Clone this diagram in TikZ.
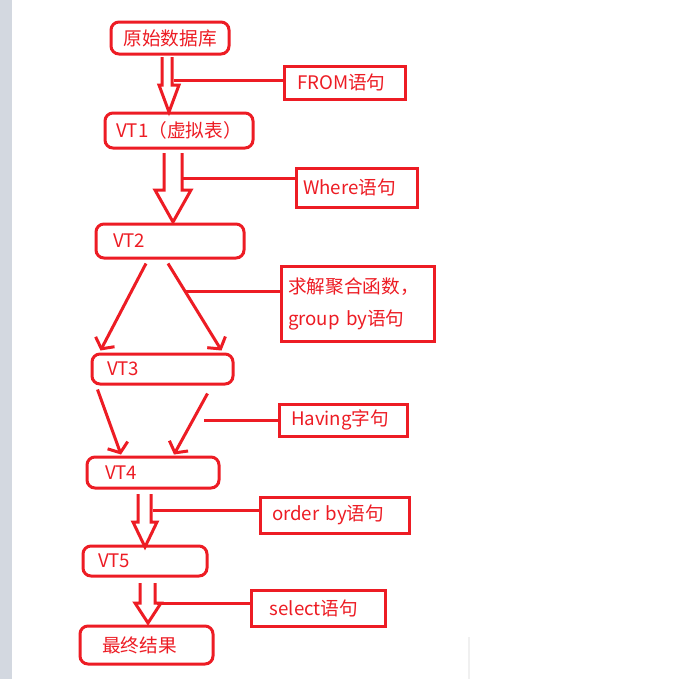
\documentclass[tikz,border=0pt]{standalone}
\usepackage{fontspec}
\newfontfamily\cjk{Noto Sans CJK SC}
\usetikzlibrary{calc,arrows.meta}
\definecolor{pen}{RGB}{237,28,36}
\definecolor{sidebar}{RGB}{211,216,224}
\tikzstyle{vt} = [rectangle, rounded corners=6pt, draw=pen, line width=2.25pt, text=pen, font=\cjk\fontsize{14pt}{17pt}\selectfont, align=left, inner ysep=0pt]
\tikzstyle{clause} = [rectangle, draw=pen, line width=2.25pt, text=pen, font=\cjk\fontsize{14pt}{24pt}\selectfont, align=left, inner ysep=0pt]
\tikzstyle{hollow} = [draw=pen, line width=2.25pt, fill=white, line join=miter]
\tikzstyle{arrow} = [draw=pen, line width=2.25pt, -{Straight Barb[length=6pt,width=16pt]}]
\tikzstyle{link} = [draw=pen, line width=2.25pt]

\begin{document}
\begin{tikzpicture}[x=0.75pt, y=-0.75pt]
\useasboundingbox (0,0) rectangle (689,679);
\fill[white] (0,0) rectangle (689,679);
\fill[sidebar] (0,0) rectangle (12,679);
% stray white panel at the bottom
\fill[gray!12] (347,637) rectangle (470,679);
\fill[white] (345,635) rectangle (468,679);

% the virtual tables
\node (start) [vt, align=center, minimum width=88.5pt, minimum height=24pt, text width=76.5pt, inner xsep=6pt] at (170,38) {原始数据库};
\node (vt1) [vt, align=center, minimum width=111pt, minimum height=26.25pt, text width=105pt, inner xsep=3pt] at (179,130.5) {VT1（虚拟表）};
\node (vt2) [vt, minimum width=111pt, minimum height=25.5pt, text width=85.5pt, inner xsep=12.75pt] at (170,241) {VT2};
\node (vt3) [vt, minimum width=105.75pt, minimum height=22.5pt, text width=83.25pt, inner xsep=11.25pt] at (162.5,369) {VT3};
\node (vt4) [vt, minimum width=99pt, minimum height=23.25pt, text width=72pt, inner xsep=13.5pt] at (153,472.5) {VT4};
\node (vt5) [vt, minimum width=93pt, minimum height=22.5pt, text width=70.5pt, inner xsep=11.25pt] at (145,561) {VT5};
\node (result) [vt, minimum width=99.75pt, minimum height=28.5pt, text width=66.75pt, inner xsep=16.5pt] at (146.5,645) {最终结果};

% the clauses
\node (from) [clause, minimum width=90.75pt, minimum height=24.75pt, text width=71.25pt, inner xsep=9.75pt] at (344.5,82.5) {FROM语句};
\node (where) [clause, minimum width=90.75pt, minimum height=29.25pt, text width=80.25pt, inner xsep=5.25pt] at (356.5,187.5) {Where语句};
\node (agg) [clause, minimum width=114.75pt, minimum height=56.25pt, text width=104.25pt, inner xsep=5.25pt] at (357.5,303.5) {求解聚合函数，\\group by语句};
\node (having) [clause, minimum width=96pt, minimum height=24pt, text width=78pt, inner xsep=9pt] at (343,420) {Having字句};
\node (order) [clause, minimum width=111.75pt, minimum height=27pt, text width=93.75pt, inner xsep=9pt] at (334.5,515) {order by语句};
\node (select) [clause, minimum width=100.5pt, minimum height=27pt, text width=72.5pt, inner xsep=14pt] at (318,608) {select语句};

% hollow arrows
\draw [hollow] (162,57) -- (162,85) -- (159,85) -- (169,112) -- (179,85) -- (172,85) -- (172,57);
\draw [hollow] (164,153) -- (164,190) -- (155,190) -- (173,222) -- (191,190) -- (182,190) -- (182,153);
\draw [hollow] (138,494) -- (138,522) -- (133,522) -- (145,547) -- (157,522) -- (151,522) -- (151,494);
\draw [hollow] (140,583) -- (140,603) -- (135,603) -- (148,623) -- (161,603) -- (155,603) -- (155,583);
\coordinate (f1) at (174,80);
\coordinate (f2) at (182,178);
\coordinate (f3) at (186,291);
\coordinate (f4) at (204,420);
\coordinate (f5) at (153,510);
\coordinate (f6) at (157,603);

% split and merge arrows
\draw [arrow] ($(vt2.south)+(-24,4)$) -- ($(vt3.north)+(-62,-2)$);
\draw [arrow] ($(vt2.south)+(-2,4)$) -- ($(vt3.north)+(59,-2)$);
\draw [arrow] ($(vt3.south)+(-65,4)$) -- ($(vt4.north)+(-32,-1)$);
\draw [arrow] ($(vt3.south)+(45,8)$) -- ($(vt4.north)+(21,-1)$);

% clause pointers
\draw [link] (f1) -- (f1 -| from.west);
\draw [link] (f2) -- (f2 -| where.west);
\draw [link] (f3) -- (f3 -| agg.west);
\draw [link] (f4) -- (f4 -| having.west);
\draw [link] (f5) -- (f5 -| order.west);
\draw [link] (f6) -- (f6 -| select.west);
\end{tikzpicture}
\end{document}
